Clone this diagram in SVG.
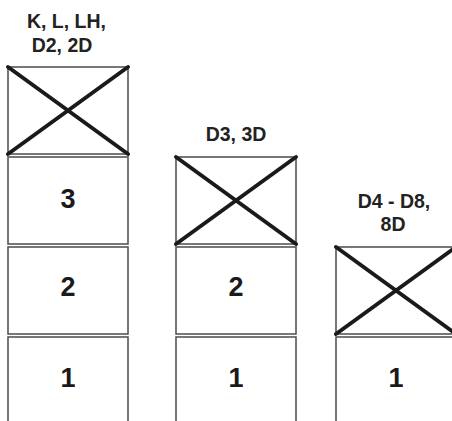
<svg xmlns="http://www.w3.org/2000/svg" width="452" height="421" viewBox="0 0 452 421">
<style>
.box{fill:#fff;stroke:#555;stroke-width:1.6}
.x{stroke:#1a1a1a;stroke-width:4;stroke-linecap:round}
.lbl{font-family:"Liberation Sans",Arial,sans-serif;font-weight:bold;font-size:19.5px;fill:#222;text-anchor:middle}
.num{font-family:"Liberation Sans",Arial,sans-serif;font-weight:bold;font-size:27px;fill:#1a1a1a;text-anchor:middle}
</style>
<rect width="452" height="421" fill="#fff"/>
<g id="col1-label">
<text class="lbl" x="66.5" y="28">K, L, LH,</text>
<text class="lbl" x="62" y="52">D2, 2D</text>
</g>
<g id="col1-x"><rect class="box" x="8" y="67" width="120" height="87"/><line class="x" x1="8" y1="67" x2="128" y2="154"/><line class="x" x1="8" y1="154" x2="128" y2="67"/></g>
<g id="col1-3"><rect class="box" x="8" y="157" width="120" height="87"/><text class="num" x="68" y="208">3</text></g>
<g id="col1-2"><rect class="box" x="8" y="247" width="120" height="87"/><text class="num" x="68" y="296">2</text></g>
<g id="col1-1"><rect class="box" x="8" y="337" width="120" height="100"/><text class="num" x="68" y="387">1</text></g>

<g id="col2-label"><text class="lbl" x="236" y="141">D3, 3D</text></g>
<g id="col2-x"><rect class="box" x="176" y="157" width="120" height="87"/><line class="x" x1="176" y1="157" x2="296" y2="244"/><line class="x" x1="176" y1="244" x2="296" y2="157"/></g>
<g id="col2-2"><rect class="box" x="176" y="247" width="120" height="87"/><text class="num" x="236" y="296">2</text></g>
<g id="col2-1"><rect class="box" x="176" y="337" width="120" height="100"/><text class="num" x="236" y="387">1</text></g>

<g id="col3-label">
<text class="lbl" x="394" y="208">D4 - D8,</text>
<text class="lbl" x="393" y="231">8D</text>
</g>
<g id="col3-x"><rect class="box" x="336" y="247" width="120" height="87"/><line class="x" x1="336" y1="247" x2="456" y2="334"/><line class="x" x1="336" y1="334" x2="456" y2="247"/></g>
<g id="col3-1"><rect class="box" x="336" y="337" width="120" height="100"/><text class="num" x="396" y="387">1</text></g>
<g id="connectors"/>
</svg>
